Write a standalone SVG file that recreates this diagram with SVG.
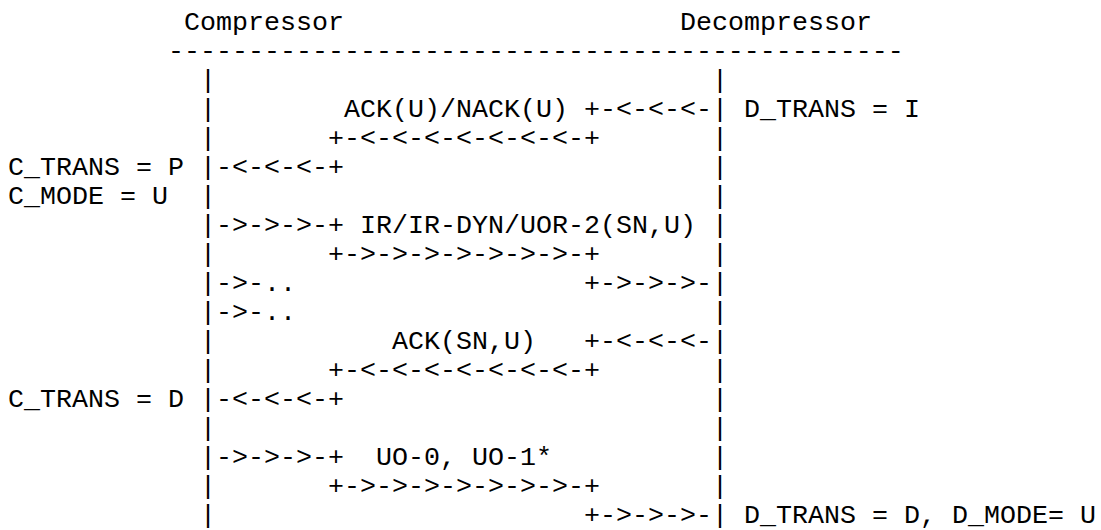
<svg xmlns="http://www.w3.org/2000/svg" width="1101" height="530" viewBox="0 0 1101 530">
<style>
text{font-family:"Liberation Mono","Courier New",monospace;font-size:26.67px;fill:#000;white-space:pre}
</style>
<rect width="1101" height="530" fill="#fff"/>
<g id="header">
<text x="184" y="30">Compressor</text>
<text x="680" y="30">Decompressor</text>
<text x="168" y="59">----------------------------------------------</text>
</g>
<g id="compressor">
<text x="200" y="88">|</text><text x="200" y="117">|</text><text x="200" y="146">|</text>
<text x="200" y="175">|</text><text x="200" y="204">|</text><text x="200" y="233">|</text>
<text x="200" y="262">|</text><text x="200" y="291">|</text><text x="200" y="320">|</text>
<text x="200" y="349">|</text><text x="200" y="378">|</text><text x="200" y="407">|</text>
<text x="200" y="436">|</text><text x="200" y="465">|</text><text x="200" y="494">|</text>
<text x="200" y="523">|</text>
</g>
<g id="decompressor">
<text x="712" y="88">|</text><text x="712" y="117">|</text><text x="712" y="146">|</text>
<text x="712" y="175">|</text><text x="712" y="204">|</text><text x="712" y="233">|</text>
<text x="712" y="262">|</text><text x="712" y="291">|</text><text x="712" y="320">|</text>
<text x="712" y="349">|</text><text x="712" y="378">|</text><text x="712" y="407">|</text>
<text x="712" y="436">|</text><text x="712" y="465">|</text><text x="712" y="494">|</text>
<text x="712" y="523">|</text>
</g>
<g id="states">
<text x="744" y="117">D_TRANS = I</text>
<text x="8" y="175">C_TRANS = P</text>
<text x="8" y="204">C_MODE = U</text>
<text x="8" y="407">C_TRANS = D</text>
<text x="744" y="523">D_TRANS = D, D_MODE= U</text>
</g>
<g id="connectors">
<text x="344" y="117">ACK(U)/NACK(U)</text>
<text x="584" y="117">+-&lt;-&lt;-&lt;-</text>
<text x="328" y="146">+-&lt;-&lt;-&lt;-&lt;-&lt;-&lt;-&lt;-+</text>
<text x="216" y="175">-&lt;-&lt;-&lt;-+</text>
<text x="216" y="233">-&gt;-&gt;-&gt;-+</text>
<text x="360" y="233">IR/IR-DYN/UOR-2(SN,U)</text>
<text x="328" y="262">+-&gt;-&gt;-&gt;-&gt;-&gt;-&gt;-&gt;-+</text>
<text x="216" y="291">-&gt;-..</text>
<text x="584" y="291">+-&gt;-&gt;-&gt;-</text>
<text x="216" y="320">-&gt;-..</text>
<text x="392" y="349">ACK(SN,U)</text>
<text x="584" y="349">+-&lt;-&lt;-&lt;-</text>
<text x="328" y="378">+-&lt;-&lt;-&lt;-&lt;-&lt;-&lt;-&lt;-+</text>
<text x="216" y="407">-&lt;-&lt;-&lt;-+</text>
<text x="216" y="465">-&gt;-&gt;-&gt;-+</text>
<text x="376" y="465">UO-0, UO-1*</text>
<text x="328" y="494">+-&gt;-&gt;-&gt;-&gt;-&gt;-&gt;-&gt;-+</text>
<text x="584" y="523">+-&gt;-&gt;-&gt;-</text>
</g>
</svg>
